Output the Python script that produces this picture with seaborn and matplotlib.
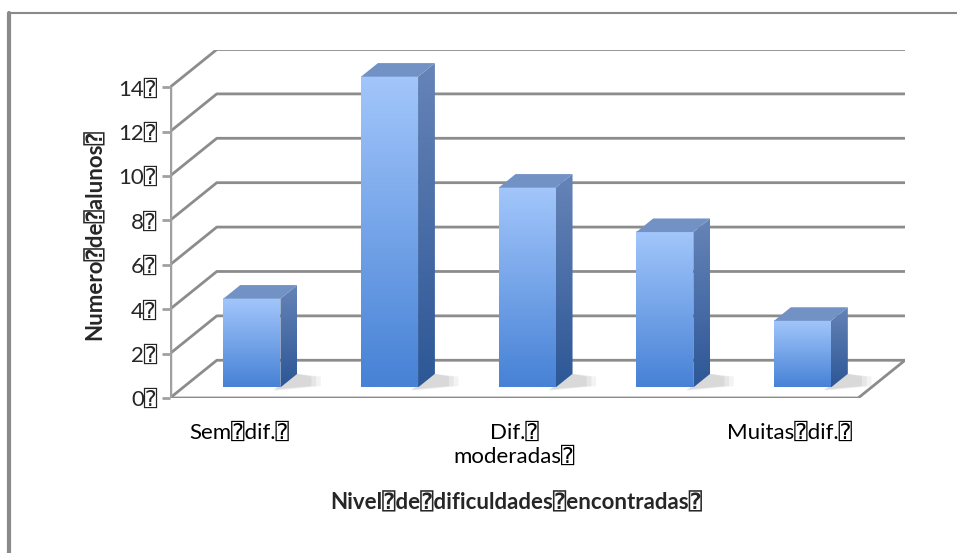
"""
Grafico de barras 3D (estilo Excel): numero de alunos por nivel de dificuldade.
"""

import numpy as np
import matplotlib
matplotlib.use("Agg")
import matplotlib.pyplot as plt
from matplotlib.patches import Polygon
import seaborn as sns

# Dados
niveis = [1, 2, 3, 4, 5]
alunos = [4, 14, 9, 7, 3]
rotulos_x = ["Sem\u2370dif.\u2370", "", "Dif.\u2370\nmoderadas\u2370", "", "Muitas\u2370dif.\u2370"]
ticks_y = [0, 2, 4, 6, 8, 10, 12, 14]
rotulos_y = [f"{t}\u2370" for t in ticks_y]
titulo_x = "Nivel\u2370de\u2370dificuldades\u2370encontradas\u2370"
titulo_y = "Numero\u2370de\u2370alunos\u2370"

sns.set_style("white")
plt.rcParams["font.family"] = ["Lato", "DejaVu Sans", "DejaVu Sans Mono"]

# Profundidade do "3D" em unidades de dados
DX, DY = 0.34, 1.7
F0, FD = 0.28, 0.36   # inicio da barra e espessura (fracao da profundidade)
GRID = "#8c8c8c"

fig = plt.figure(figsize=(9.57, 5.53), dpi=100)
ax = fig.add_axes([170 / 957, 155 / 553, 735 / 957, 348.5 / 553])

sns.barplot(x=niveis, y=alunos, width=0.414, color="#6a9ee6", ax=ax, zorder=5)

x_min, x_max = -0.5, len(niveis) - 0.5
top = ticks_y[-1]

# parede do fundo: linhas de grade com diagonal
for t in ticks_y:
    ax.plot([x_min, x_min + DX, x_max + DX], [t, t + DY, t + DY],
            color=GRID, lw=2, solid_capstyle="butt", zorder=1)
# chao
ax.plot([x_min, x_max, x_max + DX], [0, 0, DY], color=GRID, lw=2, zorder=1)
# eixo vertical frontal
ax.plot([x_min, x_min], [0, top], color="#a0a0a0", lw=2.5, zorder=2)


def gradiente(c1, c2, n=64):
    c1 = np.array(matplotlib.colors.to_rgb(c1))
    c2 = np.array(matplotlib.colors.to_rgb(c2))
    t = np.linspace(0, 1, n)[:, None]
    return (c1 * (1 - t) + c2 * t)[:, None, :]


ox, oy = F0 * DX, F0 * DY
bx, by = FD * DX, FD * DY
for p in ax.patches[:]:
    x0, w, h = p.get_x(), p.get_width(), p.get_height()
    if h <= 0:
        continue
    x0 += ox
    x1 = x0 + w
    y0, y1 = oy, oy + h
    p.set_visible(False)

    # sombra suave no chao
    for k, a in [(1.0, 0.10), (0.8, 0.12), (0.6, 0.14)]:
        sh = Polygon([(x1 - 0.05, y0 - 0.15 * k), (x1 + bx * (1 + 1.4 * k), y0 + by * 0.1),
                      (x1 + bx * (1 + 1.4 * k), y0 + by * 0.8), (x1 + bx, y0 + by)],
                     closed=True, fc="#909090", ec="none", alpha=a, zorder=3)
        ax.add_patch(sh)

    # face frontal
    ax.imshow(gradiente("#a2c6fb", "#4782d6"), extent=(x0, x1, y0, y1),
              origin="upper", aspect="auto", zorder=6, interpolation="bilinear")
    # face lateral
    lado = Polygon([(x1, y0), (x1 + bx, y0 + by), (x1 + bx, y1 + by), (x1, y1)],
                   closed=True, fc="none", ec="none")
    ax.add_patch(lado)
    im = ax.imshow(gradiente("#6684b8", "#2d5796"), extent=(x1, x1 + bx, y0, y1 + by),
                   origin="upper", aspect="auto", zorder=6, interpolation="bilinear")
    im.set_clip_path(lado)
    # topo
    ax.add_patch(Polygon([(x0, y1), (x1, y1), (x1 + bx, y1 + by), (x0 + bx, y1 + by)],
                         closed=True, fc="#7292c6", ec="none", zorder=6))

ax.set_xlim(x_min, x_max + DX)
ax.set_ylim(0, top + DY)
sns.despine(ax=ax, left=True, bottom=True)

ax.set_xticks(range(len(niveis)), rotulos_x)
ax.set_yticks(ticks_y, rotulos_y)
ax.tick_params(axis="x", length=0, pad=18, labelsize=16, colors="#000000")
ax.tick_params(axis="y", length=6, width=2, color="#a0a0a0", pad=3, labelsize=16, left=True)
ax.set_xlabel("")
ax.set_ylabel("")

fig.text(95 / 957, 1 - 235 / 553, titulo_y, rotation=90, ha="center", va="center",
         fontsize=16, fontweight="bold")
fig.text(516 / 957, 1 - 503 / 553, titulo_x, ha="center", va="center",
         fontsize=16, fontweight="bold")

# moldura do grafico (so topo e esquerda visiveis)
fig.add_artist(plt.Line2D([9 / 957, 1], [1 - 12.5 / 553] * 2, transform=fig.transFigure,
                          color="#8a8a8a", lw=1.5))
fig.add_artist(plt.Line2D([9 / 957] * 2, [0, 1 - 12.5 / 553], transform=fig.transFigure,
                          color="#8a8a8a", lw=3))

fig.savefig("out.png", dpi=100)
